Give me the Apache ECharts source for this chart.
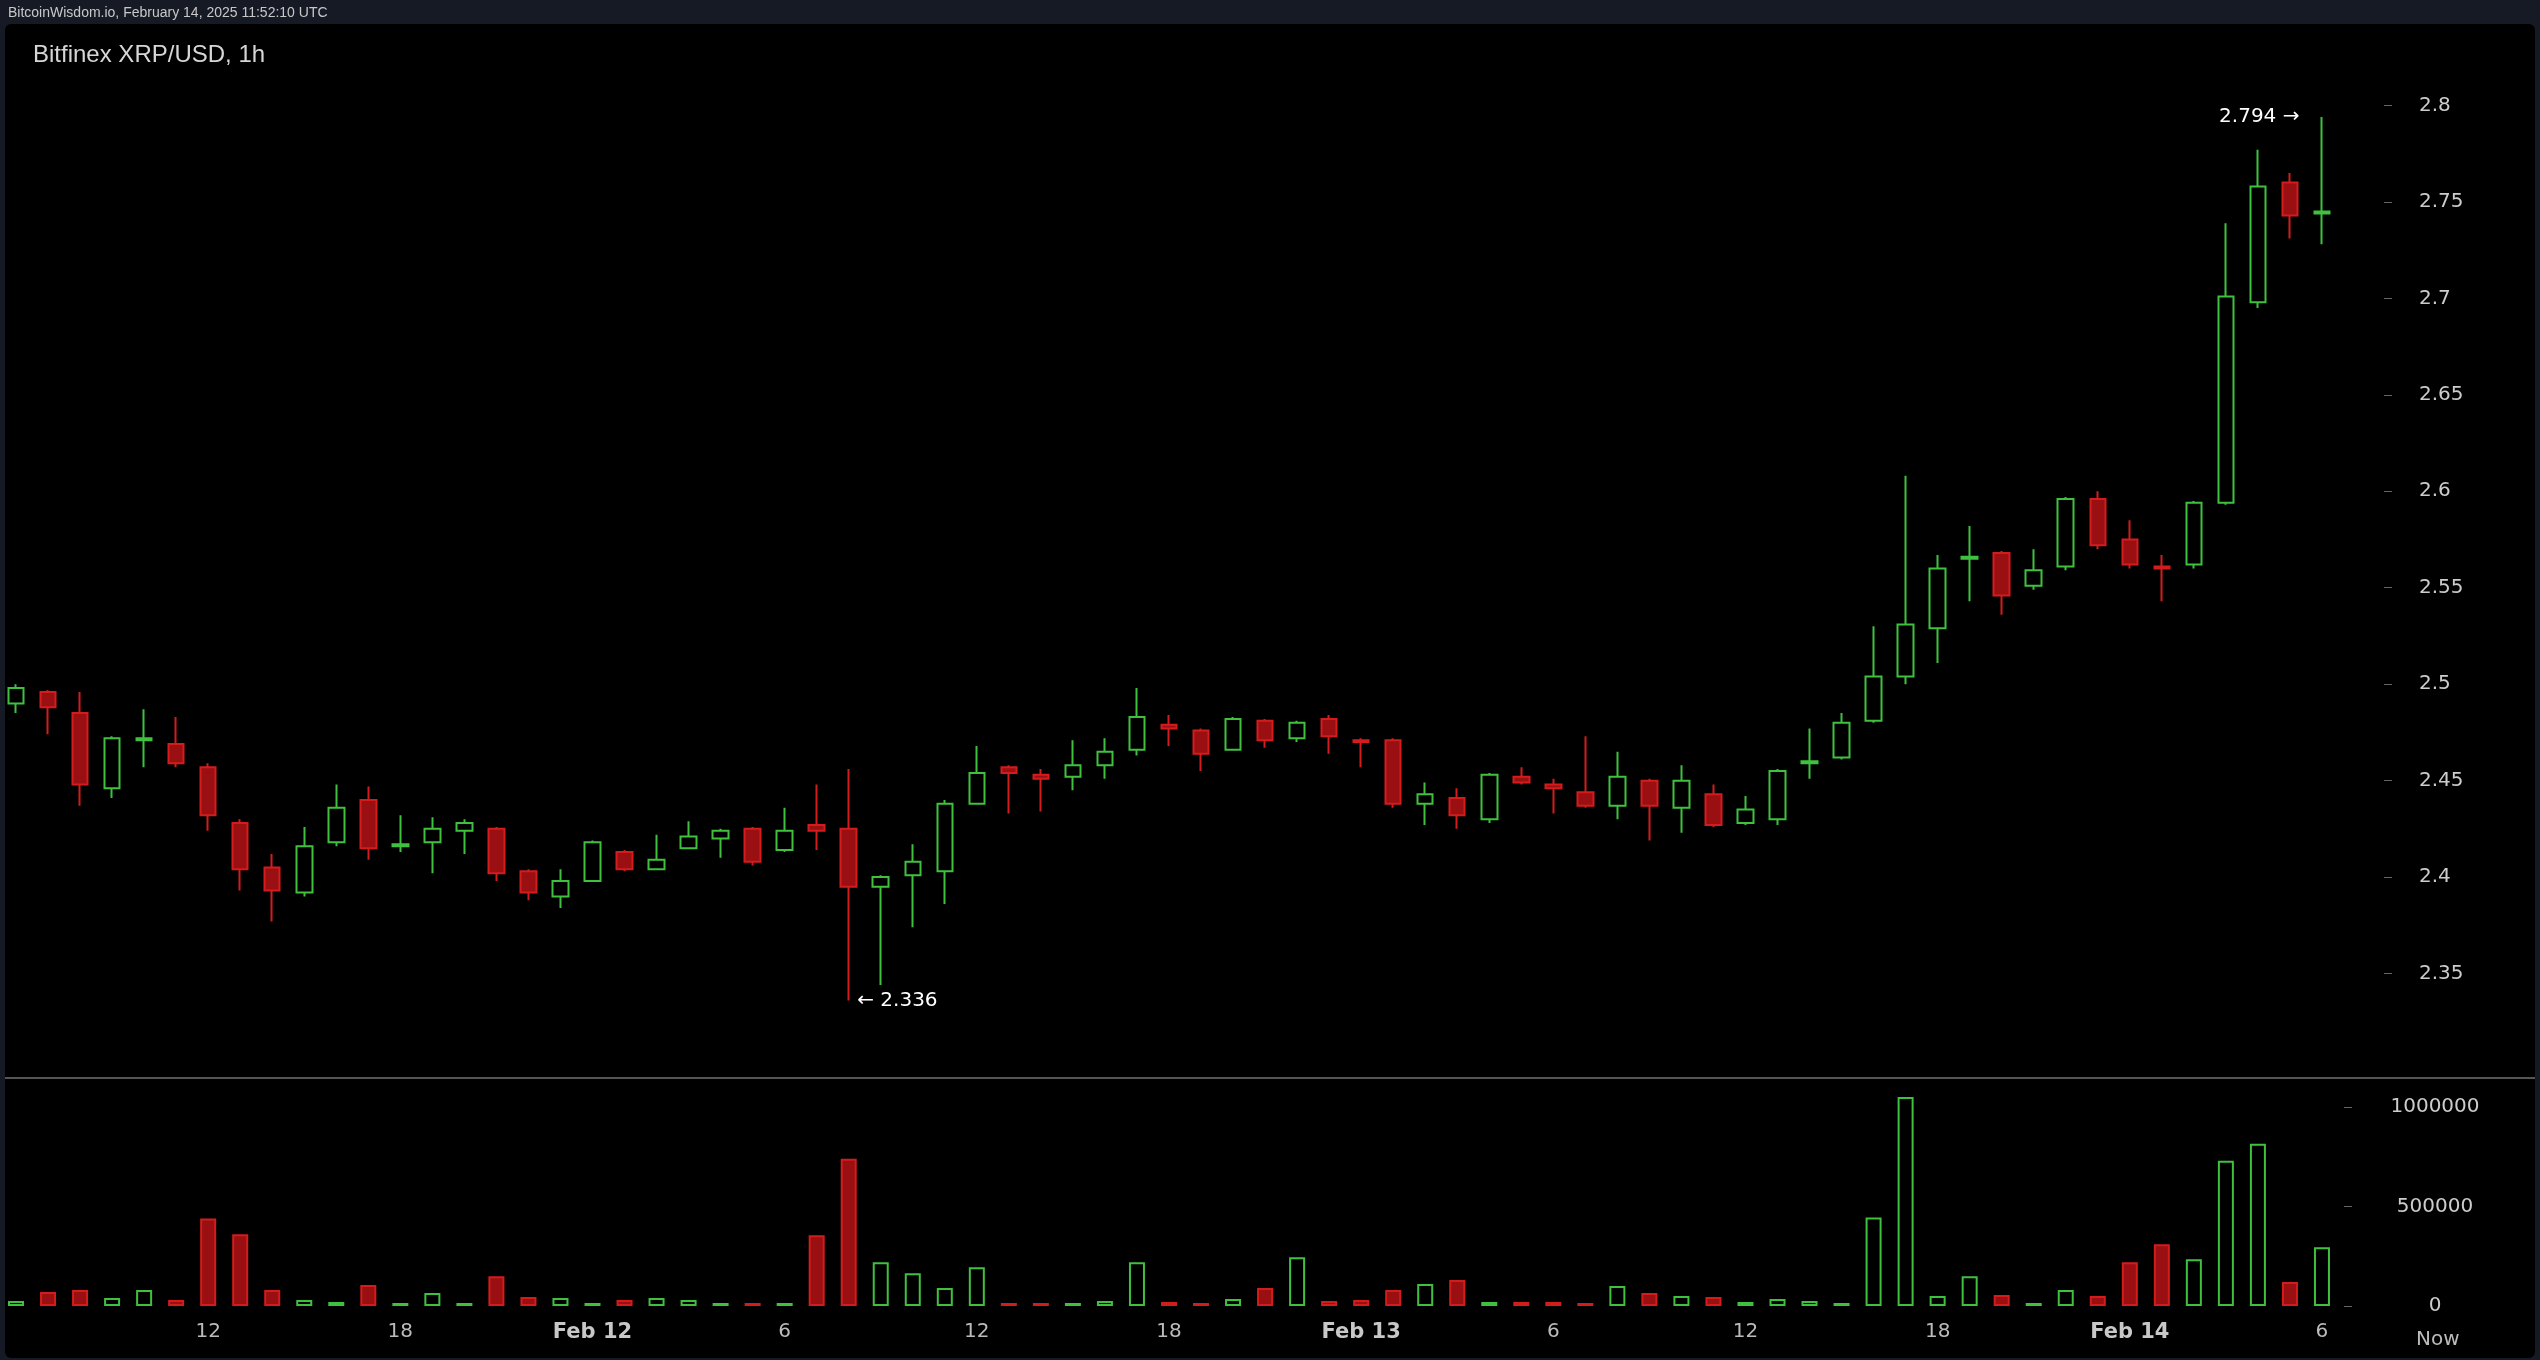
<!DOCTYPE html>
<html>
<head>
<meta charset="utf-8">
<script src="https://cdn.jsdelivr.net/npm/echarts@6/dist/echarts.min.js"></script>
<style>
  html, body { margin: 0; padding: 0; background: #161a25; }
  #top { position: absolute; left: 0; top: 0; width: 2540px; height: 24px; color: #c8c8c8; z-index: 5;
         font: 14px "Liberation Sans", sans-serif; line-height: 24px; padding-left: 8px; box-sizing: border-box; }
  #main { position: absolute; left: 0; top: 0; width: 2540px; height: 1360px; }
</style>
</head>
<body>
<div id="main"></div>
<div id="top">BitcoinWisdom.io, February 14, 2025 11:52:10 UTC</div>
<script>
// hourly candles, Feb 11 06:00 -> Feb 14 06:00 (UTC)
const hours = [];
for (let i = 0; i < 73; i++) hours.push((6 + i) % 24);
const opens = [2.490,2.496,2.485,2.446,2.471,2.469,2.457,2.428,2.405,2.392,2.418,2.440,2.416,2.418,2.424,2.425,2.403,2.390,2.398,2.413,
  2.404,2.415,2.420,2.425,2.414,2.427,2.425,2.395,2.401,2.403,2.438,2.457,2.453,2.452,2.458,2.466,2.479,2.476,2.466,2.481,
  2.472,2.482,2.471,2.471,2.438,2.441,2.430,2.452,2.448,2.444,2.437,2.450,2.436,2.443,2.428,2.430,2.459,2.462,2.481,2.504,
  2.529,2.565,2.568,2.551,2.561,2.596,2.575,2.561,2.562,2.594,2.698,2.760,2.744];
const closes = [2.498,2.488,2.448,2.472,2.472,2.459,2.432,2.404,2.393,2.416,2.436,2.415,2.417,2.425,2.428,2.402,2.392,2.398,2.418,2.404,
  2.409,2.421,2.424,2.408,2.424,2.424,2.395,2.400,2.408,2.438,2.454,2.454,2.451,2.458,2.465,2.483,2.477,2.464,2.482,2.471,
  2.480,2.473,2.470,2.438,2.443,2.432,2.453,2.449,2.446,2.437,2.452,2.437,2.450,2.427,2.435,2.455,2.460,2.480,2.504,2.531,
  2.560,2.566,2.546,2.559,2.596,2.572,2.562,2.560,2.594,2.701,2.758,2.743,2.745];
const lows = [2.485,2.474,2.437,2.441,2.457,2.457,2.424,2.393,2.377,2.390,2.416,2.409,2.413,2.402,2.412,2.398,2.388,2.384,2.398,2.403,
  2.404,2.415,2.410,2.406,2.413,2.414,2.336,2.344,2.374,2.386,2.438,2.433,2.434,2.445,2.451,2.463,2.468,2.455,2.466,2.467,
  2.470,2.464,2.457,2.436,2.427,2.425,2.428,2.448,2.433,2.436,2.430,2.419,2.423,2.426,2.427,2.427,2.451,2.461,2.480,2.500,
  2.511,2.543,2.536,2.549,2.559,2.570,2.560,2.543,2.560,2.593,2.695,2.731,2.728];
const highs = [2.500,2.497,2.496,2.473,2.487,2.483,2.459,2.430,2.412,2.426,2.448,2.447,2.432,2.431,2.430,2.426,2.404,2.404,2.419,2.414,
  2.422,2.429,2.425,2.426,2.436,2.448,2.456,2.401,2.417,2.440,2.468,2.458,2.456,2.471,2.472,2.498,2.484,2.477,2.483,2.482,
  2.481,2.484,2.472,2.472,2.449,2.446,2.454,2.457,2.451,2.473,2.465,2.451,2.458,2.448,2.442,2.456,2.477,2.485,2.530,2.608,
  2.567,2.582,2.569,2.570,2.597,2.600,2.585,2.567,2.595,2.739,2.777,2.765,2.794];
const volumes = [25,70,80,40,80,30,440,360,80,30,20,105,15,65,15,150,45,40,15,30,
  40,30,15,15,15,355,740,220,165,90,195,15,15,15,25,220,20,15,35,90,
  245,25,30,80,110,130,20,20,20,15,100,65,50,45,20,35,25,15,445,1050,
  50,150,55,15,80,50,220,310,235,730,815,120,295].map(v => v * 1000);
const priceTicks = [2.35, 2.4, 2.45, 2.5, 2.55, 2.6, 2.65, 2.7, 2.75, 2.8];
const volumeTicks = [0, 500000, 1000000];
const dayAt = { 18: 'Feb 12', 42: 'Feb 13', 66: 'Feb 14' };

const GREEN = '#3fc13f', RED = '#d41c1c', RED_FILL = '#9a0f12';
const cats = hours.map((h, i) => String(i)).concat(['']);
const candles = opens.map((o, i) => [o, closes[i], lows[i], highs[i]]);
const vols = volumes.map((v, i) => ({
  value: v,
  itemStyle: closes[i] >= opens[i]
    ? { color: 'rgba(0,0,0,0)', borderColor: GREEN, borderWidth: 2 }
    : { color: RED_FILL, borderColor: RED, borderWidth: 2 }
}));

const chart = echarts.init(document.getElementById('main'));
chart.setOption({
  backgroundColor: '#161a25',
  animation: false,
  title: { text: 'Bitfinex XRP/USD, 1h', left: 28, top: 38,
    textStyle: { color: '#d6d6d6', fontSize: 24, fontWeight: 'normal', fontFamily: 'Liberation Sans' } },
  graphic: [
    { type: 'rect', z: -10, shape: { x: 5, y: 24, width: 2530, height: 1334, r: 6 }, style: { fill: '#000' } },
    { type: 'rect', shape: { x: 5, y: 1077, width: 2530, height: 2 }, style: { fill: '#555' } },
    { type: 'text', left: 2416, top: 1330, style: { text: 'Now', fill: '#bbb', font: '20px "DejaVu Sans"' } }
  ],
  grid: [
    { left: 0, right: 170, top: 9, height: 1061 },
    { left: 0, right: 170, top: 1087, bottom: 54 }
  ],
  xAxis: [
    { type: 'category', gridIndex: 0, data: cats, axisLine: { show: false }, axisTick: { show: false },
      axisLabel: { show: false }, splitLine: { show: false } },
    { type: 'category', gridIndex: 1, data: cats, axisLine: { show: false }, axisTick: { show: false },
      splitLine: { show: false },
      axisLabel: {
        color: '#bbbbbb', fontSize: 20, fontFamily: 'DejaVu Sans', margin: 16,
        interval: (idx) => idx > 0 && idx < hours.length && hours[idx] % 6 === 0,
        formatter: (v) => {
          const idx = Number(v);
          if (isNaN(idx) || idx >= hours.length) return '';
          return hours[idx] === 0 ? '{d|' + dayAt[idx] + '}' : String(hours[idx]);
        },
        rich: { d: { color: '#c8c8c8', fontSize: 21, fontWeight: 'bold', fontFamily: 'DejaVu Sans' } }
      } }
  ],
  yAxis: [
    { type: 'value', gridIndex: 0, position: 'right', min: 2.3, max: 2.85, interval: 0.05, offset: 14,
      axisLine: { show: false }, splitLine: { show: false },
      axisTick: { show: true, length: 8, customValues: priceTicks, lineStyle: { color: '#666' } },
      axisLabel: { color: '#cccccc', fontSize: 20, fontFamily: 'DejaVu Sans', margin: 35,
        customValues: priceTicks, formatter: v => String(+(+v).toFixed(2)) } },
    { type: 'value', gridIndex: 1, position: 'right', min: 0, max: 1100000, interval: 500000, offset: -26,
      axisLine: { show: false }, splitLine: { show: false },
      axisTick: { show: true, length: 8, customValues: volumeTicks, lineStyle: { color: '#666' } },
      axisLabel: { color: '#cccccc', fontSize: 20, fontFamily: 'DejaVu Sans', margin: 91,
        align: 'center', customValues: volumeTicks, formatter: v => String(v) } }
  ],
  series: [
    { type: 'candlestick', xAxisIndex: 0, yAxisIndex: 0, data: candles, barWidth: 16,
      itemStyle: { color: 'rgba(0,0,0,0)', color0: RED_FILL, borderColor: GREEN, borderColor0: RED, borderWidth: 2 },
      markPoint: {
        symbol: 'rect', symbolSize: 1, itemStyle: { color: 'rgba(0,0,0,0)' },
        label: { color: '#ffffff', fontSize: 20, fontFamily: 'DejaVu Sans' },
        data: [
          { coord: [72, 2.794], label: { formatter: '2.794 →', position: 'left', distance: 22 } },
          { coord: [26, 2.336], label: { formatter: '← 2.336', position: 'right', distance: 8 } }
        ]
      } },
    { type: 'bar', xAxisIndex: 1, yAxisIndex: 1, data: vols, barWidth: 16 }
  ]
});
</script>
</body>
</html>
